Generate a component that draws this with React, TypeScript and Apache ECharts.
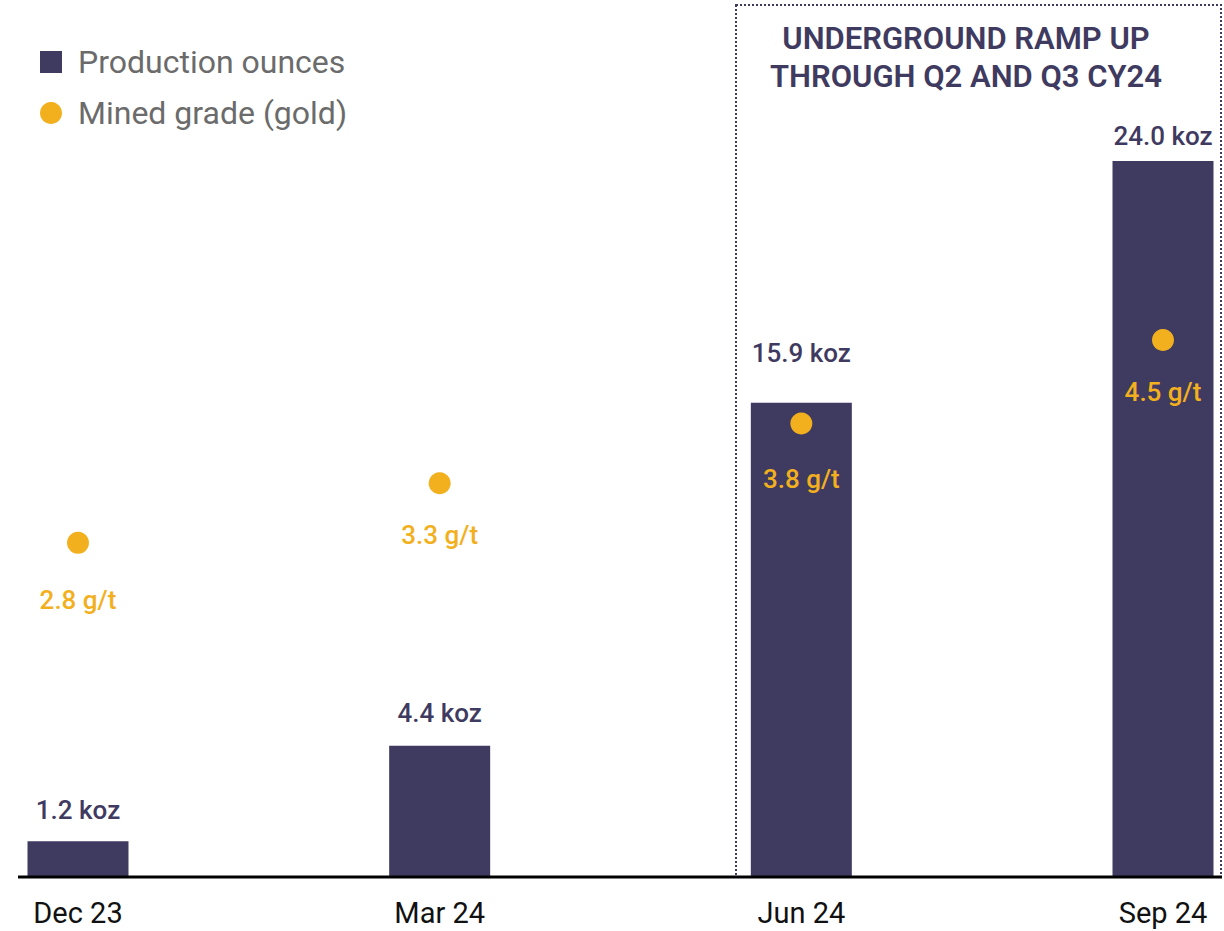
import React, { useEffect, useRef } from "react";
import * as echarts from "echarts";

const categories = ["Dec 23", "Mar 24", "Jun 24", "Sep 24"];
const productionKoz = [1.2, 4.4, 15.9, 24.0];
const minedGrade = [2.8, 3.3, 3.8, 4.5];
const annotationLines = ["UNDERGROUND RAMP UP", "THROUGH Q2 AND Q3 CY24"];
const barLabelGaps = [18, 20, 37, 12];
const gradeLabelGaps = [33, 28, 31, 28];

const PURPLE = "#3f3a60";
const ORANGE = "#f2b01e";
const FONT = "Roboto";

export default function App() {
  const ref = useRef<HTMLDivElement>(null);
  useEffect(() => {
    if (!ref.current) return;
    const chart = echarts.init(ref.current, null, { renderer: "svg" });
    chart.setOption({
      animation: false,
      backgroundColor: "#ffffff",
      textStyle: { fontFamily: FONT },
      legend: {
        orient: "vertical",
        left: 35,
        top: 41,
        itemWidth: 22,
        itemHeight: 22,
        itemGap: 19,
        textStyle: { fontSize: 32, color: "#6b6b6b", fontFamily: FONT, padding: [0, 0, 0, 11] },
        data: [
          { name: "Production ounces", icon: "rect" },
          { name: "Mined grade (gold)", icon: "circle" },
        ],
      },
      grid: { left: 78, right: 61, top: 161, bottom: 54, containLabel: false },
      xAxis: {
        type: "category",
        data: categories,
        boundaryGap: false,
        axisLine: { show: false },
        axisTick: { show: false },
        axisLabel: { fontSize: 29, color: "#111111", margin: 21, fontFamily: FONT },
        splitLine: { show: false },
      },
      yAxis: [
        { type: "value", min: 0, max: 24, show: false, splitLine: { show: false } },
        { type: "value", min: 0, max: 6, show: false, splitLine: { show: false } },
      ],
      graphic: [
        {
          type: "rect",
          shape: { x: 736, y: 5, width: 485, height: 872 },
          style: { fill: "none", stroke: PURPLE, lineWidth: 2, lineDash: [2, 2] },
          z: 0,
        },
        {
          type: "line",
          shape: { x1: 18, y1: 877, x2: 1222, y2: 877 },
          style: { stroke: "#000000", lineWidth: 3 },
          z: 10,
        },
        {
          type: "text",
          x: 966,
          y: 38,
          style: {
            text: annotationLines[0],
            fontSize: 31,
            fontWeight: 600,
            fontFamily: FONT,
            fill: PURPLE,
            align: "center",
            verticalAlign: "middle",
          },
        },
        {
          type: "text",
          x: 966,
          y: 76,
          style: {
            text: annotationLines[1],
            fontSize: 31,
            fontWeight: 600,
            fontFamily: FONT,
            fill: PURPLE,
            align: "center",
            verticalAlign: "middle",
          },
        },
      ],
      series: [
        {
          name: "Production ounces",
          type: "bar",
          data: productionKoz.map((v, i) => ({
            value: v,
            label: { distance: barLabelGaps[i] },
          })),
          barWidth: 101,
          itemStyle: { color: PURPLE },
          label: {
            show: true,
            position: "top",
            fontSize: 26,
            fontWeight: 500,
            color: PURPLE,
            fontFamily: FONT,
            formatter: (p: any) => p.value.toFixed(1) + " koz",
          },
          z: 2,
        },
        {
          name: "Mined grade (gold)",
          type: "scatter",
          yAxisIndex: 1,
          data: minedGrade.map((v, i) => ({
            value: v,
            label: { distance: gradeLabelGaps[i] },
          })),
          symbol: "circle",
          symbolSize: 22,
          itemStyle: { color: ORANGE, opacity: 1 },
          label: {
            show: true,
            position: "bottom",
            fontSize: 26,
            fontWeight: 500,
            color: ORANGE,
            fontFamily: FONT,
            formatter: (p: any) => p.value.toFixed(1) + " g/t",
          },
          z: 5,
        },
      ],
    });
    return () => chart.dispose();
  }, []);
  return (
    <div
      ref={ref}
      style={{ position: "fixed", left: 0, top: 0, width: 1224, height: 931 }}
    />
  );
}
